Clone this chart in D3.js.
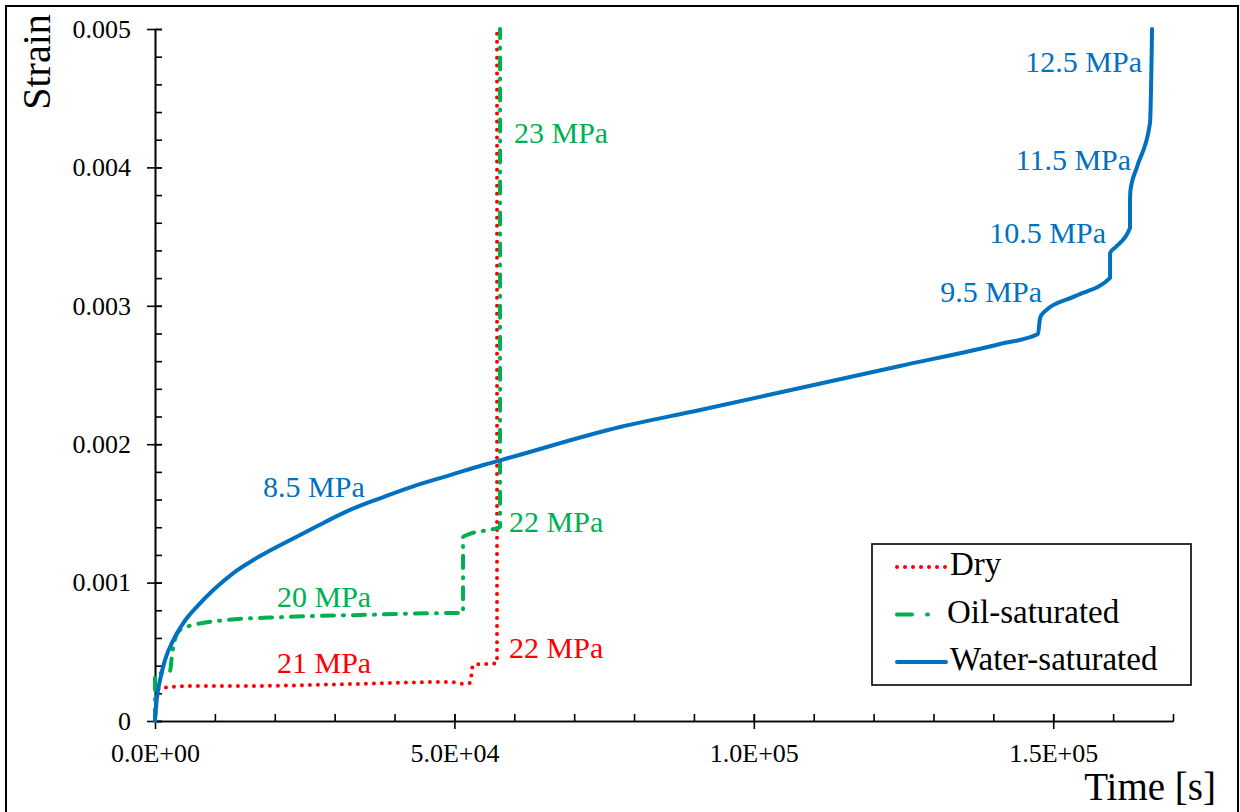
<!DOCTYPE html>
<html>
<head>
<meta charset="utf-8">
<script src="https://cdn.jsdelivr.net/npm/d3@7"></script>
<style>
  body { margin: 0; background: #fff; }
  svg, svg text { font-family: 'Liberation Serif' !important; }
</style>
</head>
<body>
<script>
// values (time in s, strain)
var dryTime   = [0, 250, 334, 835, 7014, 15865, 32565, 49265, 51770, 52605, 53106, 57114, 57114];
var dryStrain = [0, 0.000152, 0.000202, 0.000238, 0.000253, 0.000253, 0.000267, 0.000282, 0.000267, 0.000275, 0.000405, 0.000419, 0.005];

var oilTime   = [0, 0, 2505, 2840, 3840, 5180, 12020, 21380, 34240, 50430, 51440, 51440, 52100, 57110, 57620, 57620];
var oilStrain = [0, 0.000332, 0.000361, 0.000477, 0.000643, 0.000679, 0.000730, 0.000751, 0.000766, 0.000780, 0.000780, 0.001329, 0.001344, 0.001394, 0.001402, 0.005];

var waterTime   = [0, 284, 835, 1670, 3056, 4726, 6964, 9736, 13076, 16416, 20324, 24215, 28106, 32565, 38126,
                   43704, 49280, 54840, 59000, 77660, 91020, 107720, 124420, 141120, 147460, 147800, 148630,
                   153640, 159490, 159490, 160450, 162820, 162820, 162900, 163990, 166160, 166500];
var waterStrain = [0, 0.000152, 0.000296, 0.000441, 0.000585, 0.000708, 0.000824, 0.000946, 0.001069, 0.001163,
                   0.001257, 0.001344, 0.001431, 0.001525, 0.001618, 0.001705, 0.001777, 0.001850, 0.001900,
                   0.002124, 0.002247, 0.002406, 0.002565, 0.002724, 0.002796, 0.002912, 0.002962,
                   0.003070, 0.003201, 0.003381, 0.003425, 0.003562, 0.003750, 0.003836, 0.004003, 0.004321, 0.005];

var xTicks = [0, 50000, 100000, 150000];
var yTicks = [0, 0.001, 0.002, 0.003, 0.004, 0.005];

var seriesNames = ["Dry", "Oil-saturated", "Water-saturated"];

// stress labels: [text, series, time, strain, anchor]
var stressLabels = [
  ["23 MPa", 1, 59950, 0.004176, "start"],
  ["22 MPa", 1, 59120, 0.001366, "start"],
  ["22 MPa", 0, 59120, 0.000455, "start"],
  ["20 MPa", 1, 20370, 0.000824, "start"],
  ["21 MPa", 0, 20370, 0.000347, "start"],
  ["8.5 MPa", 2, 18040, 0.001618, "start"],
  ["9.5 MPa", 2, 148130, 0.003027, "end"],
  ["10.5 MPa", 2, 158820, 0.003454, "end"],
  ["11.5 MPa", 2, 163000, 0.003981, "end"],
  ["12.5 MPa", 2, 164830, 0.004689, "end"]
];

var W = 1240, H = 812;
var colors = ["#ff0000", "#00b050", "#0070c0"];
var dashes = ["0 8", "12 9 1 9", null];

var svg = d3.select("body").append("svg")
    .attr("width", W)
    .attr("height", H)
    .attr("font-family", "Liberation Serif");

svg.append("rect")
    .attr("x", 6).attr("y", 6)
    .attr("width", 1232).attr("height", 820)
    .attr("fill", "#fff")
    .attr("stroke", "#000")
    .attr("stroke-width", 2);

var x = d3.scaleLinear().domain([0, 170000]).range([155, 1173]);
var y = d3.scaleLinear().domain([0, 0.005]).range([721, 29]);

function sciFmt(d) {
  if (d === 0) return "0.0E+00";
  var e = Math.floor(Math.log10(d));
  var m = d / Math.pow(10, e);
  return m.toFixed(1) + "E+" + (e < 10 ? "0" + e : e);
}

// minor ticks pointing into the plot
svg.append("g")
    .attr("class", "x minor")
    .attr("transform", "translate(0,721)")
    .call(d3.axisTop(x).tickValues(d3.range(0, 170001, 10000)).tickSize(7).tickSizeOuter(0).tickFormat(""));

svg.append("g")
    .attr("class", "y minor")
    .attr("transform", "translate(155,0)")
    .call(d3.axisRight(y).tickValues(d3.range(0, 26).map(function(i) { return i * 0.0002; })).tickSize(7).tickSizeOuter(0).tickFormat(""));

// major axes
svg.append("g")
    .attr("class", "x axis")
    .attr("transform", "translate(0,721)")
    .call(d3.axisBottom(x).tickValues(xTicks).tickSize(8).tickSizeOuter(0).tickPadding(15).tickFormat(sciFmt));

svg.append("g")
    .attr("class", "y axis")
    .attr("transform", "translate(155,0)")
    .call(d3.axisLeft(y).tickValues(yTicks).tickSize(8).tickSizeOuter(0).tickPadding(16)
      .tickFormat(function(d) { return d === 0 ? "0" : d3.format(".3f")(d); }));

// major ticks also cross the axis line
svg.select(".x.axis").selectAll(".tick line").attr("y1", -7);
svg.select(".y.axis").selectAll(".tick line").attr("x1", 7);

svg.selectAll(".axis, .minor").attr("font-family", "Liberation Serif").attr("font-size", 26);
svg.selectAll(".axis, .minor").selectAll("path, line")
    .attr("stroke", "#000")
    .attr("stroke-width", 1.6);
svg.selectAll(".axis text")
    .style("font-size", "26px")
    .attr("fill", "#000");

// axis titles
svg.append("text")
    .attr("transform", "translate(50,62) rotate(-90)")
    .attr("text-anchor", "middle")
    .style("font-size", "40px")
    .text("Strain");

svg.append("text")
    .attr("x", 1216).attr("y", 800)
    .attr("text-anchor", "end")
    .style("font-size", "39px")
    .text("Time [s]");

// curves
var series = [
  d3.zip(dryTime, dryStrain),
  d3.zip(oilTime, oilStrain),
  d3.zip(waterTime, waterStrain)
];

var line = d3.line()
    .curve(d3.curveMonotoneX)
    .x(function(d) { return x(d[0]); })
    .y(function(d) { return y(d[1]); });

series.forEach(function(s, i) {
  svg.append("path")
    .datum(s)
    .attr("d", line)
    .attr("fill", "none")
    .attr("stroke", colors[i])
    .attr("stroke-width", 4)
    .attr("stroke-linecap", "round")
    .attr("stroke-linejoin", "round")
    .attr("stroke-dasharray", dashes[i]);
});

// stress level labels
svg.selectAll(".stress")
    .data(stressLabels)
   .enter()
    .append("text")
    .attr("class", "stress")
    .attr("x", function(d) { return x(d[2]); })
    .attr("y", function(d) { return y(d[3]); })
    .attr("text-anchor", function(d) { return d[4]; })
    .attr("fill", function(d) { return colors[d[1]]; })
    .style("font-size", "30px")
    .text(function(d) { return d[0]; });

// legend
var legend = svg.append("g").attr("transform", "translate(872,544)");
legend.append("rect")
    .attr("width", 319).attr("height", 141)
    .attr("fill", "#fff")
    .attr("stroke", "#000")
    .attr("stroke-width", 1.6);

var rows = legend.selectAll(".row")
    .data(seriesNames)
   .enter()
    .append("g")
    .attr("class", "row")
    .attr("transform", function(d, i) { return "translate(0," + (23 + i * 47.5) + ")"; });

rows.append("line")
    .attr("x1", 25).attr("x2", 74)
    .attr("stroke", function(d, i) { return colors[i]; })
    .attr("stroke-width", 4)
    .attr("stroke-linecap", "round")
    .attr("stroke-dasharray", function(d, i) { return i === 0 ? "0 8" : (i === 1 ? "15 15 1 30" : null); });

rows.append("text")
    .attr("x", function(d, i) { return i === 1 ? 75 : 78; })
    .attr("y", 8)
    .style("font-size", "33px")
    .text(function(d) { return d; });
</script>
</body>
</html>
